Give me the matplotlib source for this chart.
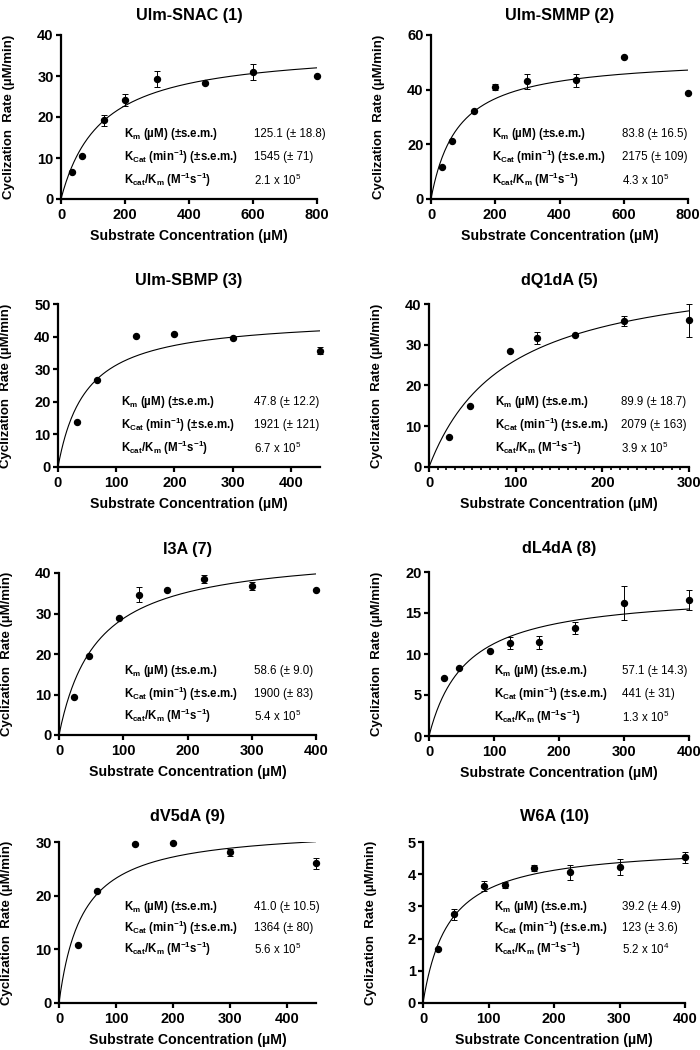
import numpy as np
import matplotlib
matplotlib.use("Agg")
import matplotlib.pyplot as plt

plt.rcParams['font.family'] = ['Liberation Sans', 'DejaVu Sans']
plt.rcParams['mathtext.fontset'] = 'custom'
plt.rcParams['mathtext.rm'] = 'Liberation Sans'
plt.rcParams['mathtext.bf'] = 'Liberation Sans:bold'

nan = float('nan')

titles = ['Ulm-SNAC (1)', 'Ulm-SMMP (2)', 'Ulm-SBMP (3)', 'dQ1dA (5)',
          'I3A (7)', 'dL4dA (8)', 'dV5dA (9)', 'W6A (10)']

# substrate concentrations (uM)
conc_800 = [33.3, 66.7, 133.3, 200, 300, 450, 600, 800]
conc_450 = [33.3, 66.7, 133.3, 200, 300, 450]
conc_400 = [23.4, 46.9, 93.75, 125, 168.75, 225, 300, 400]
conc_300 = [23.4, 46.9, 93.75, 125, 168.75, 225, 300]

# cyclization rates (uM/min) and s.e.m. (nan = no error bar drawn)
rate_snac = [6.7, 10.6, 19.2, 24.2, 29.2, 28.3, 31.0, 29.9]
err_snac = [nan, nan, 1.4, 1.4, 2.0, nan, 2.0, nan]
rate_smmp = [11.7, 21.3, 32.3, 40.9, 43.0, 43.5, 51.8, 38.7]
err_smmp = [nan, nan, nan, 1.2, 2.8, 2.4, nan, nan]
rate_sbmp = [13.9, 26.6, 40.3, 40.9, 39.6, 35.7]
err_sbmp = [nan, nan, nan, nan, nan, 1.1]
rate_dq1da = [7.4, 14.9, 28.4, 31.7, 32.3, 35.8, 36.0]
err_dq1da = [nan, nan, nan, 1.4, nan, 1.15, 4.0]
rate_i3a = [9.4, 19.4, 28.8, 34.6, 35.9, 38.5, 36.9, 35.9]
err_i3a = [nan, nan, nan, 1.85, nan, 0.9, 1.0, nan]
rate_dl4da = [7.1, 8.3, 10.35, 11.4, 11.45, 13.2, 16.2, 16.6]
err_dl4da = [nan, nan, nan, 0.73, 0.8, 0.7, 2.1, 1.2]
rate_dv5da = [10.9, 20.8, 29.6, 29.8, 28.1, 26.0]
err_dv5da = [nan, nan, nan, nan, 0.65, 0.95]
rate_w6a = [1.69, 2.75, 3.64, 3.67, 4.2, 4.06, 4.22, 4.52]
err_w6a = [nan, 0.17, 0.16, 0.1, 0.09, 0.23, 0.24, 0.18]

concs = [conc_800, conc_800, conc_450, conc_300, conc_400, conc_400, conc_450, conc_400]
rates = [rate_snac, rate_smmp, rate_sbmp, rate_dq1da, rate_i3a, rate_dl4da, rate_dv5da, rate_w6a]
errs = [err_snac, err_smmp, err_sbmp, err_dq1da, err_i3a, err_dl4da, err_dv5da, err_w6a]

# Michaelis-Menten fit parameters
km_fit = [125.1, 83.8, 47.8, 89.9, 58.6, 57.1, 41.0, 39.2]
vmax_fit = [37.0, 52.1, 46.2, 49.8, 45.6, 17.7, 32.8, 4.93]

km_text = ['125.1 (± 18.8)', '83.8 (± 16.5)', '47.8 (± 12.2)', '89.9 (± 18.7)',
           '58.6 (± 9.0)', '57.1 (± 14.3)', '41.0 (± 10.5)', '39.2 (± 4.9)']
kcat_text = ['1545 (± 71)', '2175 (± 109)', '1921 (± 121)', '2079 (± 163)',
             '1900 (± 83)', '441 (± 31)', '1364 (± 80)', '123 (± 3.6)']
eff_text = ['2.1 x 10$^\\mathregular{5}$', '4.3 x 10$^\\mathregular{5}$',
            '6.7 x 10$^\\mathregular{5}$', '3.9 x 10$^\\mathregular{5}$',
            '5.4 x 10$^\\mathregular{5}$', '1.3 x 10$^\\mathregular{5}$',
            '5.6 x 10$^\\mathregular{5}$', '5.2 x 10$^\\mathregular{4}$']

x_max = [800, 800, 450, 300, 400, 400, 450, 400]
x_step = [200, 200, 100, 100, 100, 100, 100, 100]
y_max = [40, 60, 50, 40, 40, 20, 30, 5]
y_step = [10, 20, 10, 10, 10, 5, 10, 1]

row_labels = ['K$_\\mathregular{m}$ (µM) (±s.e.m.)',
              'K$_\\mathregular{Cat}$ (min$^\\mathregular{-1}$) (±s.e.m.)',
              'K$_\\mathregular{cat}$/K$_\\mathregular{m}$ (M$^\\mathregular{-1}$s$^\\mathregular{-1}$)']

# axes boxes in pixels: left, right, top, bottom
boxes = [(61, 317, 35, 199), (431, 688, 35, 199),
         (58, 320, 304, 467), (429, 689, 304, 467),
         (59, 316, 573, 735), (429, 689, 572, 736),
         (59, 316, 842, 1003), (423, 685, 842, 1003)]
title_pad = [11, 11, 14, 14, 14, 14, 15, 15]
text_y = [(0.396, 0.256, 0.116)] * 6 + [(0.596, 0.466, 0.335)] * 2
text_x = [(0.246, 0.754), (0.237, 0.743), (0.24, 0.75), (0.254, 0.74),
          (0.253, 0.76), (0.25, 0.742), (0.253, 0.76), (0.27, 0.76)]

W, H = 700, 1050


def draw_panel(fig, i):
    x0, x1, yt, yb = boxes[i]
    ax = fig.add_axes([x0 / W, 1 - yb / H, (x1 - x0) / W, (yb - yt) / H])

    xs = np.linspace(0, x_max[i], 300)
    ax.plot(xs, vmax_fit[i] * xs / (km_fit[i] + xs), color='black', lw=0.8, zorder=2)
    ax.errorbar(concs[i], rates[i], yerr=np.array(errs[i]), fmt='o', color='black',
                ms=4.3, elinewidth=0.7, capsize=2.2, capthick=0.7, zorder=3, clip_on=False)

    ax.set_xlim(0, x_max[i])
    ax.set_ylim(0, y_max[i])
    ax.set_xticks(np.arange(0, x_max[i] + 1, x_step[i]))
    ax.set_yticks(np.arange(0, y_max[i] + 0.01, y_step[i]))
    if i == 3:
        ax.set_xticks(np.arange(0, x_max[i] + 1, 10), minor=True)
    for s in ['top', 'right']:
        ax.spines[s].set_visible(False)
    for s in ['left', 'bottom']:
        ax.spines[s].set_linewidth(1.6)
    ax.tick_params(which='major', length=3.8, width=1.6, labelsize=10.5)
    ax.tick_params(which='minor', length=2.5, width=1.2)
    ax.tick_params(axis='x', pad=2.5)
    ax.tick_params(axis='y', pad=1.5)
    for lab in ax.get_xticklabels() + ax.get_yticklabels():
        lab.set_fontweight('bold')

    ax.set_title(titles[i], fontsize=11.7, fontweight='bold', pad=title_pad[i])
    ax.set_xlabel('Substrate Concentration (µM)', fontsize=10.2, fontweight='bold')
    ax.set_ylabel('Cyclization  Rate (µM/min)', fontsize=9.5, fontweight='bold')
    ax.xaxis.label.set_va('center')
    ax.yaxis.label.set_va('center')
    ax.xaxis.set_label_coords(0.5, -37 / (yb - yt))
    ax.yaxis.set_label_coords(-52 / (x1 - x0), 0.5)

    vals = [km_text[i], kcat_text[i], eff_text[i]]
    for lab, val, ty in zip(row_labels, vals, text_y[i]):
        ax.text(text_x[i][0], ty, lab, transform=ax.transAxes, fontsize=8.3,
                fontweight='bold', va='center', ha='left')
        ax.text(text_x[i][1], ty, val, transform=ax.transAxes, fontsize=8.3,
                va='center', ha='left')


def main():
    fig = plt.figure(figsize=(7, 10.5), dpi=100)
    for i in range(len(titles)):
        draw_panel(fig, i)
    fig.savefig('out.png', dpi=100)


if __name__ == "__main__":
    main()
